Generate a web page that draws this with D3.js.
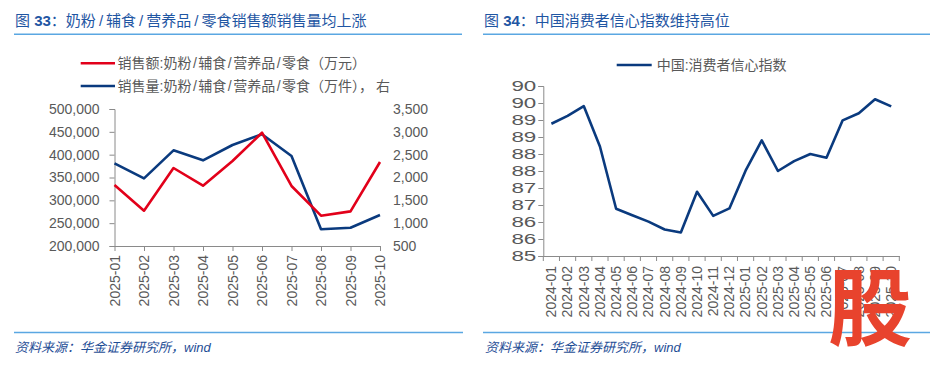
<!DOCTYPE html>
<html><head><meta charset="utf-8">
<script src="https://cdn.jsdelivr.net/npm/d3@7/dist/d3.min.js"></script>
<style>
body{margin:0;background:#fff;}
svg{display:block;font-family:"Liberation Sans","Noto Sans CJK SC",sans-serif;}
</style></head>
<body>
<svg id="c" width="936" height="366"></svg>
<script>
// ---------- data ----------
const leftCats = ["2025-01","2025-02","2025-03","2025-04","2025-05","2025-06","2025-07","2025-08","2025-09","2025-10"];
const salesAmount = [333500, 277300, 370800, 332100, 386000, 448100, 331400, 266400, 275900, 383900]; // 万元, left axis
const salesVolume = [2311, 1982, 2595, 2376, 2712, 2946, 2471, 866, 900, 1179]; // 万件, right axis
const leftTicks = [200000,250000,300000,350000,400000,450000,500000];
const rightTicks = [500,1000,1500,2000,2500,3000,3500];

const rightCats = ["2024-01","2024-02","2024-03","2024-04","2024-05","2024-06","2024-07","2024-08","2024-09","2024-10","2024-11","2024-12",
  "2025-01","2025-02","2025-03","2025-04","2025-05","2025-06","2025-07","2025-08","2025-09","2025-10"];
const confidence = [88.89, 89.12, 89.41, 88.22, 86.39, 86.2, 86.01, 85.78, 85.69, 86.89, 86.18, 86.40,
  87.51, 88.40, 87.5, 87.79, 88.0, 87.89, 88.99, 89.2, 89.61, 89.40];
const confTicks = [85,85.5,86,86.5,87,87.5,88,88.5,89,89.5,90];

const title1 = "图 33：奶粉/辅食/营养品/零食销售额销售量均上涨";
const title2 = "图 34：中国消费者信心指数维持高位";
const legend1 = ["销售额:奶粉/辅食/营养品/零食（万元）", "销售量:奶粉/辅食/营养品/零食（万件），右"];
const legend2 = "中国:消费者信心指数";
const source = "资料来源：华金证券研究所，wind";

// ---------- styles ----------
const RED = "#e2001a", NAVY = "#0a3a7e", AX = "#8a8a8a", TXT = "#595959";
const TITLE = "#1f56a3", RULE = "#5aa7e2";

const svg = d3.select("#c");

// writes a string as tspans, padding around "/" (and after "，"), bolding digits
function richText(sel, str, pad){
  const parts = str.split(/(\/|\d+|，)/).filter(s => s.length);
  let prev = null;
  parts.forEach(p => {
    const t = sel.append("tspan").text(p);
    if (/^\d+$/.test(p) && sel.attr("data-bold")) t.attr("font-weight", "bold");
    let dx = 0;
    if (p === "/") dx += pad;
    if (prev === "/") dx += pad;
    if (prev === "，") dx += pad * 2;
    if (dx) t.attr("dx", dx);
    prev = p;
  });
}

// titles + rules
function header(x, x1, x2, t, pad){
  const tt = svg.append("text").attr("x", x).attr("y", 26).attr("fill", TITLE)
    .attr("font-size", 15).attr("data-bold", "1");
  richText(tt, t, pad);
  svg.append("line").attr("x1", x1).attr("x2", x2).attr("y1", 34.3).attr("y2", 34.3)
    .attr("stroke", RULE).attr("stroke-width", 1.5);
}
header(15, 14, 462, title1, 3);
header(484, 483, 930, title2, 3);

// footers
function footer(x, x1, x2){
  svg.append("line").attr("x1", x1).attr("x2", x2).attr("y1", 332.5).attr("y2", 332.5)
    .attr("stroke", RULE).attr("stroke-width", 1.5);
  svg.append("text").attr("x", x).attr("y", 352).attr("fill", "#1f4e96")
    .attr("font-size", 13).attr("font-style", "italic").text(source);
}
footer(15, 14, 463);
footer(485, 483, 930);

// ---------- left chart ----------
const xL = d3.scalePoint().domain(leftCats).range([114.5, 380]);
const yL = d3.scaleLinear().domain([200000, 500000]).range([246, 109]);
const yR = d3.scaleLinear().domain([500, 3500]).range([246, 109]);

const gLa = svg.append("g").attr("transform", "translate(114.5,0)")
  .call(d3.axisLeft(yL).tickValues(leftTicks).tickSize(5).tickPadding(10).tickFormat(d3.format(",")));
const gRa = svg.append("g").attr("transform", "translate(385,0)")
  .call(d3.axisRight(yR).tickValues(rightTicks).tickSize(0).tickPadding(8).tickFormat(d3.format(",")));
gRa.select(".domain").remove();
const gLx = svg.append("g").attr("transform", "translate(0,246)")
  .call(d3.axisBottom(xL).tickSize(5).tickSizeOuter(0));
gLx.selectAll("text").attr("transform", "translate(0,9) rotate(-90)")
  .attr("text-anchor", "end").attr("dy", "0.35em").attr("dx", 0).attr("x", 0).attr("y", 0);

[gLa, gRa, gLx].forEach(g => {
  g.selectAll("text").attr("font-size", 14).attr("fill", TXT).attr("font-family", "Liberation Sans");
  g.selectAll("line,path").attr("stroke", AX);
});

const lineA = d3.line().x((d,i) => xL(leftCats[i])).y(d => yL(d));
const lineV = d3.line().x((d,i) => xL(leftCats[i])).y(d => yR(d));
svg.append("path").datum(salesVolume).attr("d", lineV).attr("fill", "none")
  .attr("stroke", NAVY).attr("stroke-width", 2.6).attr("stroke-linejoin", "round");
svg.append("path").datum(salesAmount).attr("d", lineA).attr("fill", "none")
  .attr("stroke", RED).attr("stroke-width", 2.6).attr("stroke-linejoin", "round");

// left legend
[[RED, 63.3], [NAVY, 86]].forEach(([c, y], i) => {
  svg.append("line").attr("x1", 80.7).attr("x2", 115).attr("y1", y).attr("y2", y)
    .attr("stroke", c).attr("stroke-width", 2.6);
  const t = svg.append("text").attr("x", 117.5).attr("y", y + 5).attr("font-size", 14).attr("fill", TXT);
  richText(t, legend1[i], 1.5);
});

// ---------- right chart ----------
const xC = d3.scaleBand().domain(rightCats).range([543.3, 899.3]);
const yC = d3.scaleLinear().domain([85, 90]).range([256, 86]);

const gCy = svg.append("g").attr("transform", "translate(543.3,0)")
  .call(d3.axisLeft(yC).tickValues(confTicks).tickSize(5).tickPadding(0).tickFormat(d => String(Math.floor(d + 0.5))));
gCy.selectAll("text").attr("x", 0).attr("transform", "translate(-7,0) scale(1.6,1)");
const gCx = svg.append("g").attr("transform", "translate(0,256)")
  .call(d3.axisBottom(xC).tickSize(0).tickSizeOuter(0));
gCx.selectAll("text").attr("transform", "translate(0,10) rotate(-90)")
  .attr("text-anchor", "end").attr("dy", "0.35em").attr("x", 0).attr("y", 0);
// tick marks at band boundaries
const bounds = rightCats.map(c => xC(c)).concat([xC.range()[1]]);
gCx.selectAll(".bt").data(bounds).enter().append("line").attr("class", "bt")
  .attr("x1", d => d).attr("x2", d => d).attr("y1", 0).attr("y2", 5);

[gCy, gCx].forEach(g => {
  g.selectAll("text").attr("font-size", 14).attr("fill", TXT).attr("font-family", "Liberation Sans");
  g.selectAll("line,path").attr("stroke", AX);
});

const lineC = d3.line().x((d,i) => xC(rightCats[i]) + xC.bandwidth()/2).y(d => yC(d));
svg.append("path").datum(confidence).attr("d", lineC).attr("fill", "none")
  .attr("stroke", NAVY).attr("stroke-width", 2.6).attr("stroke-linejoin", "round");

// right legend
svg.append("line").attr("x1", 616.7).attr("x2", 651.7).attr("y1", 65).attr("y2", 65)
  .attr("stroke", NAVY).attr("stroke-width", 2.6);
svg.append("text").attr("x", 656.7).attr("y", 70).attr("font-size", 14)
  .attr("fill", TXT).text(legend2);

// watermark
svg.append("text").attr("x", 870).attr("y", 339).attr("text-anchor", "middle")
  .attr("font-size", 84).attr("font-weight", "bold").attr("fill", "#e8432d")
  .attr("font-family", "Noto Sans CJK SC").text("股");
</script>
</body></html>
